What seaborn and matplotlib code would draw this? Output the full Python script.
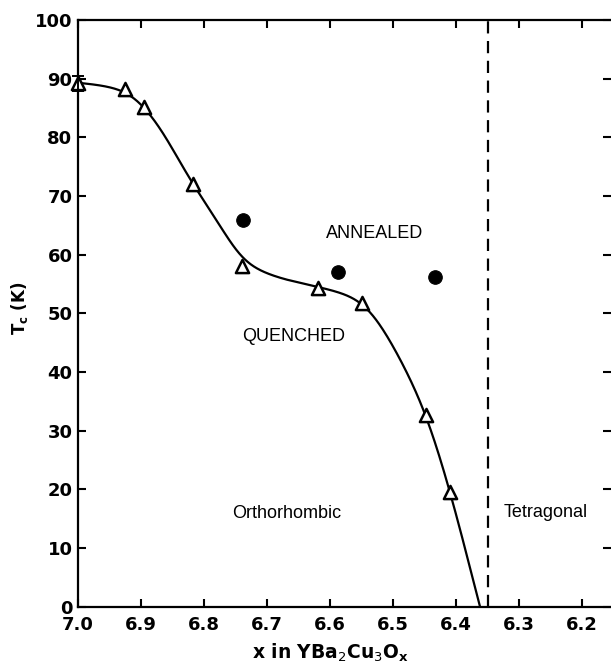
import numpy as np
import pandas as pd
import matplotlib
matplotlib.use("Agg")
import matplotlib.pyplot as plt
import seaborn as sns

# ---- data ----
quenched_x = [7.0, 6.925, 6.895, 6.818, 6.739, 6.619, 6.550, 6.448, 6.410]
quenched_tc = [89.2, 88.3, 85.2, 72.0, 58.1, 54.4, 51.8, 32.7, 19.6]
annealed_x = [6.738, 6.588, 6.434]
annealed_tc = [65.9, 57.0, 56.2]
# hand-drawn guide curve
curve_x = [7.0, 6.965, 6.923, 6.870, 6.843, 6.818, 6.790, 6.764, 6.739,
           6.685, 6.619, 6.579, 6.550, 6.525, 6.499, 6.448, 6.410, 6.362]
curve_tc = [89.3, 88.9, 87.8, 81.8, 76.7, 72.0, 67.6, 63.1, 59.0,
            56.2, 54.5, 53.4, 52.0, 49.0, 44.3, 33.0, 19.9, 0.0]
boundary_x = 6.35
x_ticks = [7.0, 6.9, 6.8, 6.7, 6.6, 6.5, 6.4, 6.3, 6.2]
y_ticks = [0, 10, 20, 30, 40, 50, 60, 70, 80, 90, 100]
labels = [("ANNEALED", 6.529, 63.6), ("QUENCHED", 6.658, 46.0),
          ("Orthorhombic", 6.668, 15.9), ("Tetragonal", 6.258, 16.0)]


def pchip(x, y, xn):
    """Monotone cubic (PCHIP) interpolation of the read guide-curve points."""
    x = np.asarray(x, float)[::-1]
    y = np.asarray(y, float)[::-1]
    h = np.diff(x)
    d = np.diff(y) / h
    n = len(x)
    m = np.zeros(n)
    for k in range(1, n - 1):
        if d[k - 1] * d[k] <= 0:
            m[k] = 0
        else:
            w1 = 2 * h[k] + h[k - 1]
            w2 = h[k] + 2 * h[k - 1]
            m[k] = (w1 + w2) / (w1 / d[k - 1] + w2 / d[k])
    m[0] = d[0]
    m[-1] = d[-1]
    out = np.empty_like(xn)
    for i, xv in enumerate(xn):
        k = np.clip(np.searchsorted(x, xv) - 1, 0, n - 2)
        t = (xv - x[k]) / h[k]
        h00 = 2 * t**3 - 3 * t**2 + 1
        h10 = t**3 - 2 * t**2 + t
        h01 = -2 * t**3 + 3 * t**2
        h11 = t**3 - t**2
        out[i] = h00 * y[k] + h10 * h[k] * m[k] + h01 * y[k + 1] + h11 * h[k] * m[k + 1]
    return out


def smooth_curve(x, y, step=0.001, sigma=0.018):
    """Interpolate, then Gaussian-smooth to remove kinks (like a French curve)."""
    lo, hi = min(x), max(x)
    xs = np.arange(lo, hi + step / 2, step)
    ys = pchip(x, y, xs)
    npad = int(4 * sigma / step)
    sl0 = (ys[1] - ys[0]) / step
    sl1 = (ys[-1] - ys[-2]) / step
    left = ys[0] - sl0 * step * np.arange(npad, 0, -1)
    right = ys[-1] + sl1 * step * np.arange(1, npad + 1)
    ext = np.concatenate([left, ys, right])
    k = np.arange(-npad, npad + 1) * step
    kern = np.exp(-0.5 * (k / sigma) ** 2)
    kern /= kern.sum()
    sm = np.convolve(ext, kern, mode="same")[npad:-npad]
    return xs, sm


sns.set_theme(style="ticks")
plt.rcParams["font.family"] = ["DejaVu Sans"]
plt.rcParams["text.color"] = "black"
plt.rcParams["axes.labelcolor"] = "black"

fig = plt.figure(figsize=(6.11, 6.65), dpi=100)
ax = fig.add_axes([78 / 611, 58.3 / 665, 533 / 611, 586.7 / 665])

xs, ys = smooth_curve(curve_x, curve_tc)
curve_df = pd.DataFrame({"x": xs, "Tc": ys})
sns.lineplot(data=curve_df, x="x", y="Tc", ax=ax, color="black", lw=1.6,
             sort=False, estimator=None)

q_df = pd.DataFrame({"x": quenched_x, "Tc": quenched_tc})
a_df = pd.DataFrame({"x": annealed_x, "Tc": annealed_tc})
sns.scatterplot(data=q_df, x="x", y="Tc", ax=ax, marker="^", s=90,
                facecolor="white", edgecolor="black", linewidth=1.8,
                zorder=5, clip_on=False)
sns.scatterplot(data=a_df, x="x", y="Tc", ax=ax, marker="o", s=95,
                color="black", edgecolor="black", zorder=5, clip_on=False)
# error cap on the x = 7.0 point
ax.errorbar([quenched_x[0]], [quenched_tc[0]], yerr=1.3, fmt="none",
            ecolor="black", elinewidth=1.4, capsize=4, capthick=1.4,
            zorder=6, clip_on=False)

ax.axvline(boundary_x, color="black", lw=1.6, ls=(0, (5.5, 3.4)))

for txt, x, y in labels:
    ax.text(x, y, txt, ha="center", va="center", fontsize=13,
            family="Liberation Sans", color="black")

ax.set_xlim(7.0, 6.154)
ax.set_ylim(0, 100)
ax.set_xticks(x_ticks)
ax.set_xticklabels([f"{v:.1f}" for v in x_ticks])
ax.set_yticks(y_ticks)
ax.set_yticklabels([str(v) for v in y_ticks])

ax.spines["right"].set_visible(False)
for s in ["left", "bottom", "top"]:
    ax.spines[s].set_linewidth(1.6)
    ax.spines[s].set_color("black")

ax.tick_params(axis="both", which="major", direction="in", length=6,
               width=1.5, color="black", labelsize=13, top=True, right=True,
               labelcolor="black")
ax.tick_params(axis="x", pad=7)
ax.tick_params(axis="y", pad=4)
for lab in ax.get_xticklabels() + ax.get_yticklabels():
    lab.set_fontweight("bold")

ax.set_xlabel(r"x in YBa$_2$Cu$_3$O$_\mathregular{x}$", fontsize=13.5,
              fontweight="bold", color="black")
ax.set_ylabel(r"T$_\mathregular{c}$ (K)", fontsize=12, fontweight="bold",
              color="black")
ax.xaxis.set_label_coords(0.473, -0.06)
ax.yaxis.set_label_coords(-0.09, 0.509)

fig.savefig("out.png", dpi=100)
